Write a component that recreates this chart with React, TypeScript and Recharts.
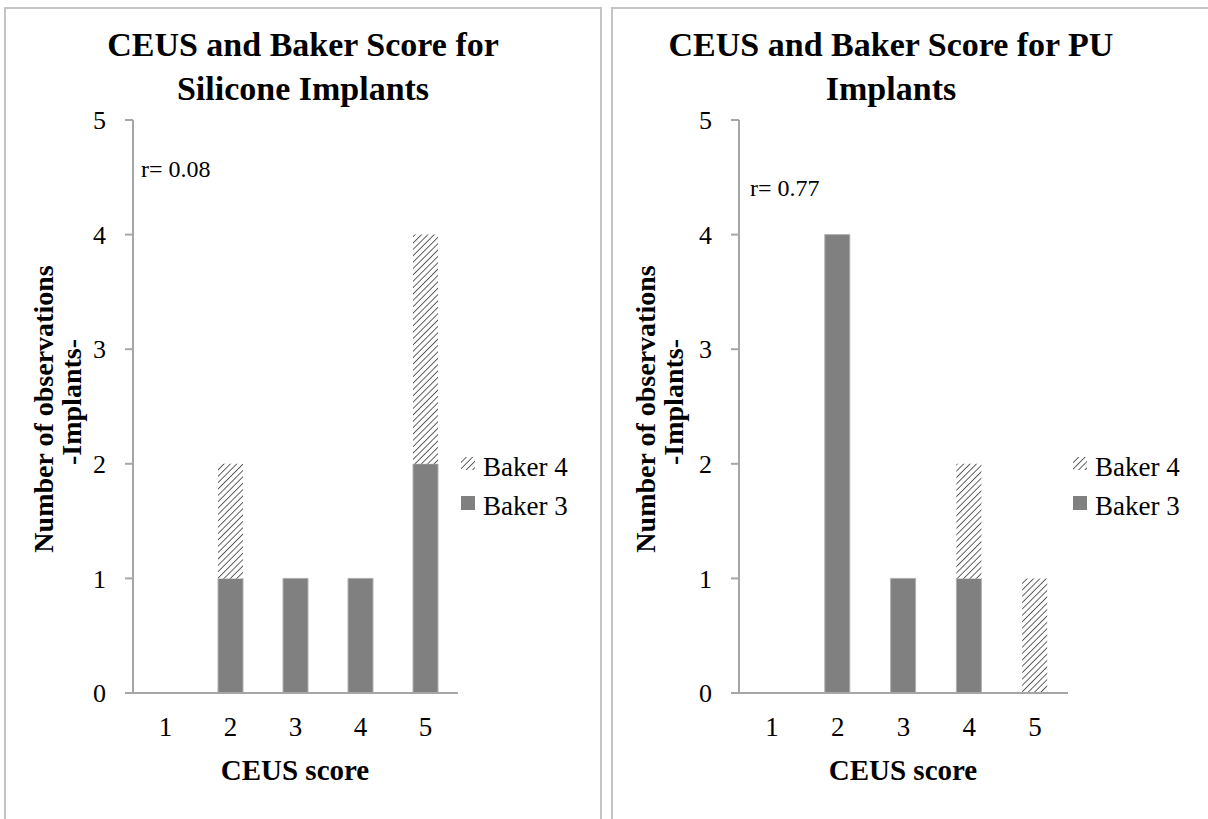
import React from 'react';
import { BarChart, Bar, XAxis, YAxis } from 'recharts';

const categories = ['1', '2', '3', '4', '5'];
const siliconeBaker3 = [0, 1, 1, 1, 2];
const siliconeBaker4 = [0, 1, 0, 0, 2];
const puBaker3 = [0, 4, 1, 1, 0];
const puBaker4 = [0, 0, 0, 1, 1];
const yTicks = [0, 1, 2, 3, 4, 5];
const seriesNames = ['Baker 3', 'Baker 4'];

const siliconeData = categories.map((c, i) => ({ cat: c, b3: siliconeBaker3[i], b4: siliconeBaker4[i] }));
const puData = categories.map((c, i) => ({ cat: c, b3: puBaker3[i], b4: puBaker4[i] }));

const FONT = 'Liberation Serif';
const GRAY = '#808080';
const AXIS = '#a6a6a6';

type PanelProps = {
  data: any[];
  left: number;
  chartMargin: { top: number; right: number; bottom: number; left: number };
  title1: string;
  title2: string;
  titleCx: number;
  xTitleCx: number;
  rText: string;
  rX: number;
  rY: number;
  yl1X: number;
  yl2X: number;
  legendIconX: number;
  legendTextX: number;
};

function Panel(p: PanelProps) {
  const W = 606;
  return (
    <div style={{ position: 'absolute', left: p.left, top: 0, width: W, height: 819 }}>
      <BarChart width={W} height={819} data={p.data} margin={p.chartMargin} barSize={25}>
        <XAxis
          dataKey="cat"
          tickLine={false}
          axisLine={{ stroke: AXIS, strokeWidth: 2 }}
          tick={{ fill: '#000', fontSize: 27, fontFamily: FONT }}
          tickSize={6}
          tickMargin={18}
          height={60}
          interval={0}
        />
        <YAxis
          domain={[0, 5]}
          ticks={yTicks}
          interval={0}
          width={40}
          tickSize={8}
          tickMargin={19}
          tickLine={{ stroke: AXIS, strokeWidth: 2 }}
          axisLine={{ stroke: AXIS, strokeWidth: 2 }}
          tick={{ fill: '#000', fontSize: 26, fontFamily: FONT }}
        />
        <Bar dataKey="b3" name={seriesNames[0]} stackId="s" fill={GRAY} stroke="#b0b0b0" strokeWidth={1} isAnimationActive={false} />
        <Bar dataKey="b4" name={seriesNames[1]} stackId="s" fill="url(#hatchPattern)" stroke="none" isAnimationActive={false} />
      </BarChart>
      <svg width={W} height={819} style={{ position: 'absolute', left: 0, top: 0, pointerEvents: 'none' }}>
        <g fontFamily={FONT} fill="#000">
          <text x={p.titleCx} y={56} textAnchor="middle" fontSize={34} fontWeight="bold">{p.title1}</text>
          <text x={p.titleCx} y={100} textAnchor="middle" fontSize={34} fontWeight="bold">{p.title2}</text>
          <text x={p.rX} y={p.rY} fontSize={24}>{p.rText}</text>
          <text transform={`translate(${p.yl1X},409) rotate(-90)`} textAnchor="middle" fontSize={28} fontWeight="bold">Number of observations</text>
          <text transform={`translate(${p.yl2X},402) rotate(-90)`} textAnchor="middle" fontSize={28} fontWeight="bold">-Implants-</text>
          <text x={p.xTitleCx} y={780} textAnchor="middle" fontSize={29} fontWeight="bold">CEUS score</text>
          <rect x={p.legendIconX} y={457} width={14} height={13} fill="url(#hatchPattern)" />
          <text x={p.legendTextX} y={476} fontSize={27}>{seriesNames[1]}</text>
          <rect x={p.legendIconX} y={496} width={14} height={14} fill={GRAY} />
          <text x={p.legendTextX} y={515} fontSize={27}>{seriesNames[0]}</text>
        </g>
      </svg>
    </div>
  );
}

export default function App() {
  return (
    <div style={{ position: 'absolute', left: 0, top: 0, width: 1208, height: 819, overflow: 'hidden', background: '#fff' }}>
      <svg width={0} height={0} style={{ position: 'absolute' }}>
        <defs>
          <pattern id="hatchPattern" patternUnits="userSpaceOnUse" width="4.5" height="4.5" patternTransform="rotate(45)">
            <rect width="4.5" height="4.5" fill="#fff" />
            <line x1="0" y1="0" x2="0" y2="4.5" stroke="#3a3a3a" strokeWidth="1.6" />
          </pattern>
        </defs>
      </svg>
      <div style={{ position: 'absolute', left: 4, top: 7, width: 594, height: 830, border: '2px solid #c4c4c4' }} />
      <div style={{ position: 'absolute', left: 611, top: 7, width: 620, height: 830, border: '2px solid #c4c4c4' }} />
      <Panel
        data={siliconeData}
        left={0}
        chartMargin={{ top: 120, right: 148, bottom: 66, left: 93 }}
        title1="CEUS and Baker Score for"
        title2="Silicone Implants"
        titleCx={303}
        xTitleCx={295}
        rText="r= 0.08"
        rX={141}
        rY={177}
        yl1X={53}
        yl2X={81}
        legendIconX={461}
        legendTextX={483}
      />
      <Panel
        data={puData}
        left={606}
        chartMargin={{ top: 120, right: 144, bottom: 66, left: 93 }}
        title1="CEUS and Baker Score for PU"
        title2="Implants"
        titleCx={285}
        xTitleCx={297}
        rText="r= 0.77"
        rX={144}
        rY={196}
        yl1X={49}
        yl2X={77}
        legendIconX={467}
        legendTextX={489}
      />
    </div>
  );
}
